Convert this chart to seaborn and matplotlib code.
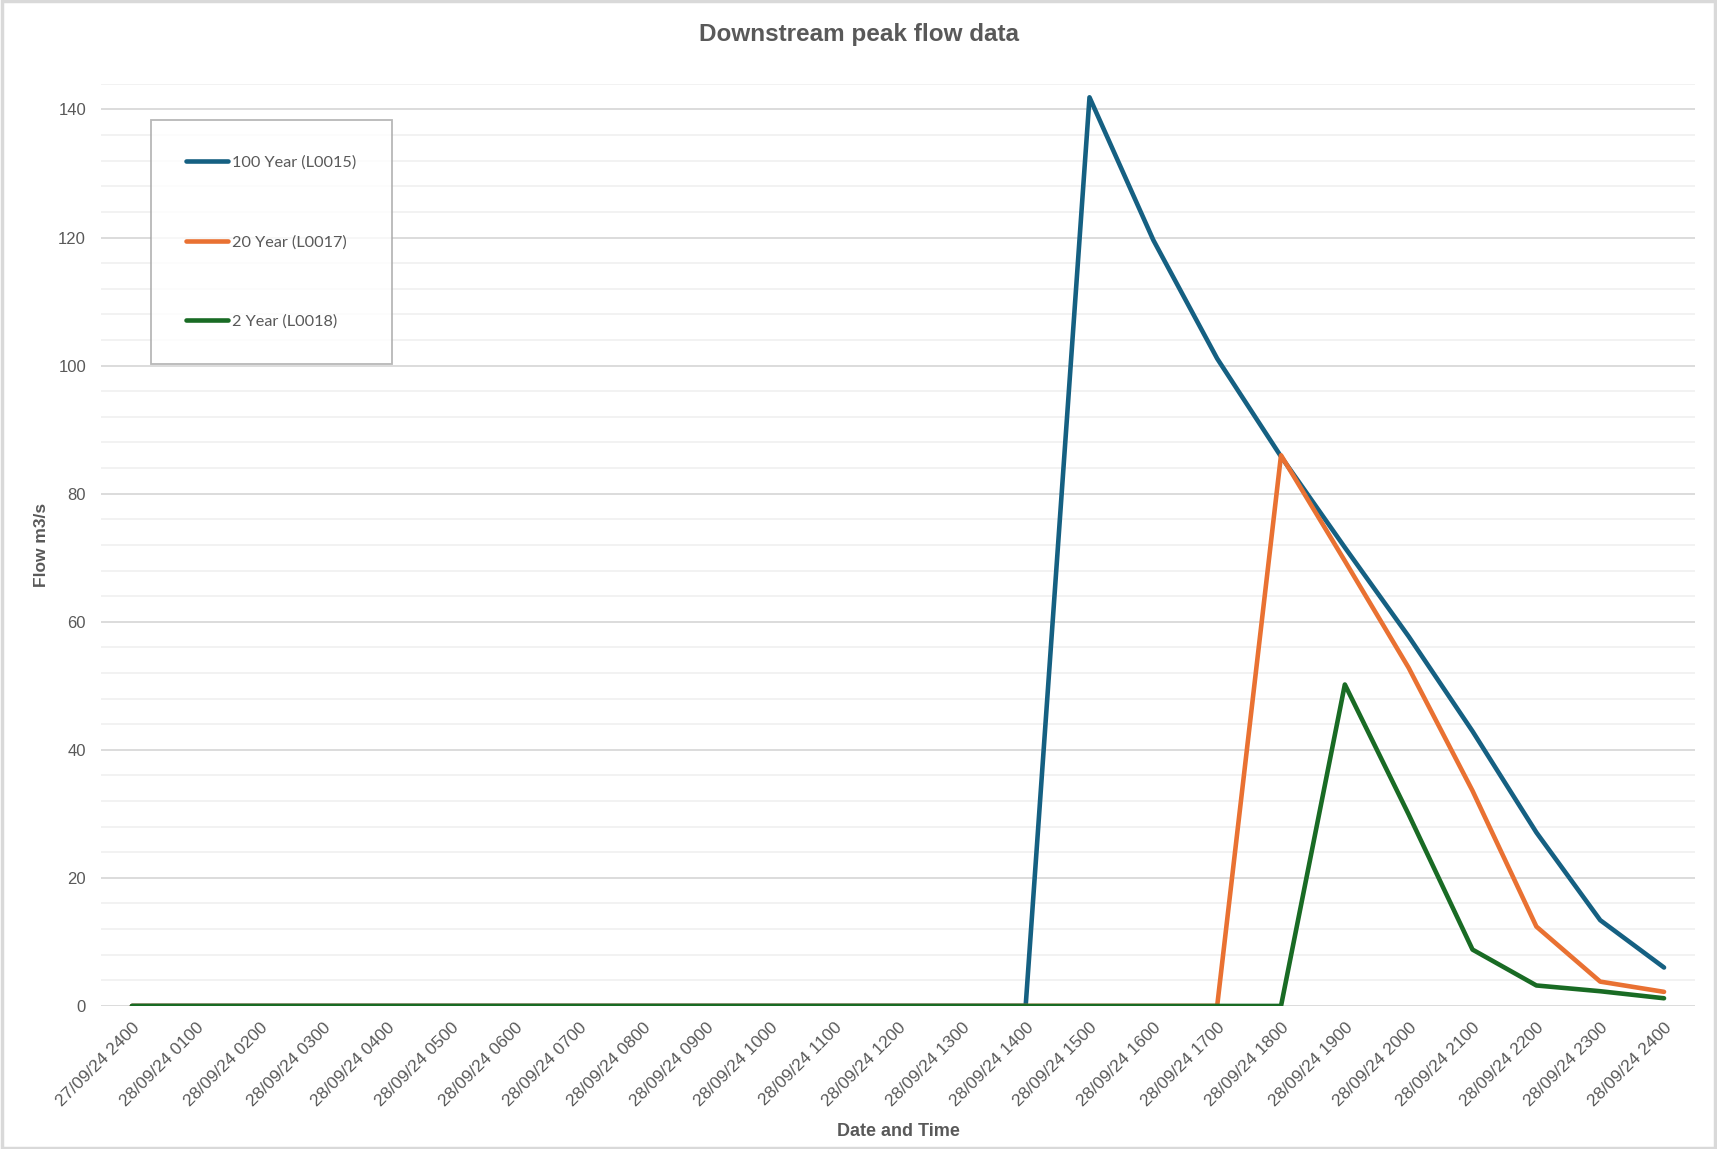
import matplotlib
matplotlib.use("Agg")
import matplotlib.pyplot as plt
import seaborn as sns
import pandas as pd
from matplotlib.patches import Rectangle
from matplotlib.ticker import MultipleLocator

# --- Data ---
times = ['27/09/24 2400'] + [f'28/09/24 {h:02d}00' for h in range(1, 25)]

flow_100yr = [0, 0, 0, 0, 0, 0, 0, 0, 0, 0, 0, 0, 0, 0, 0,
              141.9, 119.6, 101.1, 85.8, 71.6, 57.7, 42.9, 27.1, 13.4, 6.0]
flow_20yr = [0, 0, 0, 0, 0, 0, 0, 0, 0, 0, 0, 0, 0, 0, 0,
             0, 0, 0, 86.0, 69.5, 52.8, 33.6, 12.4, 3.8, 2.2]
flow_2yr = [0, 0, 0, 0, 0, 0, 0, 0, 0, 0, 0, 0, 0, 0, 0,
            0, 0, 0, 0, 50.2, 29.9, 8.8, 3.2, 2.3, 1.2]

series_names = ['100 Year (L0015)', '20 Year (L0017)', '2 Year (L0018)']
colors = ['#156082', '#E97132', '#196B24']

# long-form table for seaborn
rows = []
for name, vals in zip(series_names, [flow_100yr, flow_20yr, flow_2yr]):
    for i, v in enumerate(vals):
        rows.append({'idx': i, 'Flow': v, 'Series': name})
df = pd.DataFrame(rows)

# --- Plot setup ---
sns.set_theme(style="white")
plt.rcParams['font.family'] = ['Liberation Sans', 'DejaVu Sans']

fig = plt.figure(figsize=(17.17, 11.49), dpi=100)
ax = fig.add_axes([0.059, 0.1245, 0.928, 0.8025])

sns.lineplot(data=df, x='idx', y='Flow', hue='Series', hue_order=series_names,
             palette=colors, linewidth=3.3, ax=ax, zorder=3)

# --- Axes styling ---
ax.set_xlim(-0.48, len(times) - 0.52)
ax.set_ylim(0, 144)
ax.yaxis.set_major_locator(MultipleLocator(20))
ax.yaxis.set_minor_locator(MultipleLocator(4))
ax.grid(which='major', axis='y', color='#d9d9d9', linewidth=1.3)
ax.grid(which='minor', axis='y', color='#f0f0f0', linewidth=1.2)
ax.set_axisbelow(True)
for s in ['top', 'right', 'left', 'bottom']:
    ax.spines[s].set_visible(False)
ax.tick_params(axis='both', which='both', length=0, colors='#595959')

ax.set_xticks(range(len(times)))
ax.set_xticklabels(times, rotation=45, ha='right', rotation_mode='anchor',
                   fontsize=12.5, color='#595959')
ax.tick_params(axis='x', pad=10)
ax.tick_params(axis='y', pad=11, labelsize=12)

ax.set_xlabel('Date and Time', fontsize=13, fontweight='bold', color='#595959')
ax.xaxis.set_label_coords(0.5, -0.127)
ax.set_ylabel('Flow m3/s', fontsize=12.5, fontweight='bold', color='#595959')
ax.yaxis.set_label_coords(-0.033, 0.5)

# --- Legend ---
leg = ax.legend(loc='upper left', bbox_to_anchor=(0.031, 0.961), borderaxespad=0,
                frameon=True, fancybox=False, labelspacing=4.0,
                handlelength=2.55, handletextpad=0.25, borderpad=2.2,
                prop={'family': ['Lato', 'DejaVu Sans'], 'size': 11.7})
leg.get_frame().set_edgecolor('#a6a6a6')
leg.get_frame().set_linewidth(1.3)
for t in leg.get_texts():
    t.set_color('#595959')
for h in leg.get_lines():
    h.set_linewidth(3.3)
    h.set_solid_capstyle('round')

# --- Title ---
fig.text(0.5, 1 - 35 / 1149, 'Downstream peak flow data', ha='center', va='center',
         fontsize=17.5, fontweight='bold', color='#595959')

# figure border
fig.patches.append(Rectangle((0.001, 0.001), 0.998, 0.998, transform=fig.transFigure,
                             fill=False, edgecolor='#d9d9d9', linewidth=2.5))

fig.savefig('out.png', dpi=100)
